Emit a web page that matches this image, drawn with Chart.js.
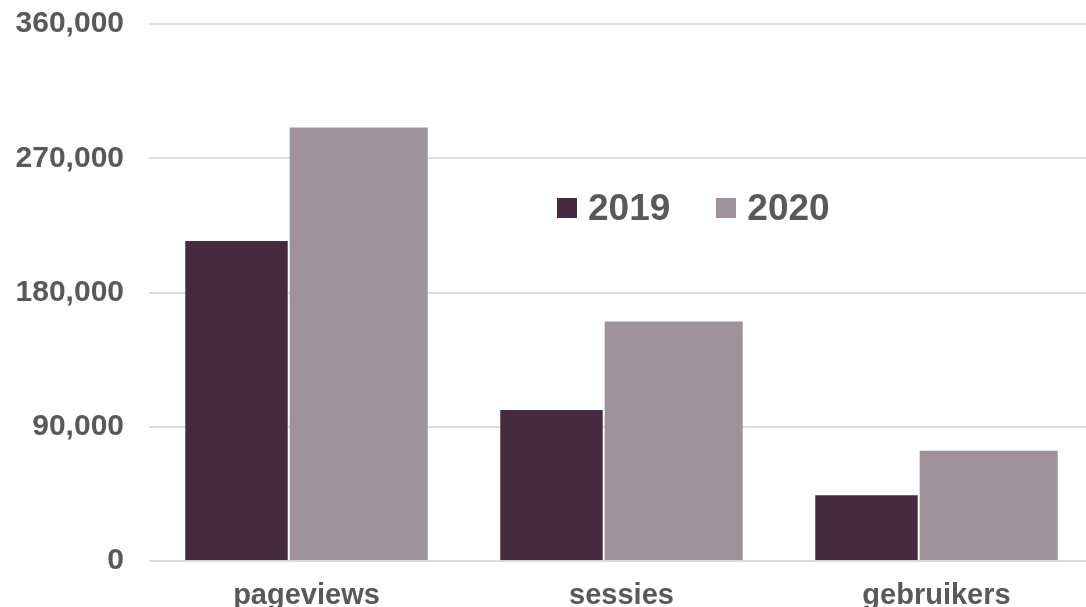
<!DOCTYPE html>
<html>
<head>
<meta charset="utf-8">
<title>pageviews, sessies, gebruikers</title>
<script src="https://cdn.jsdelivr.net/npm/chart.js@4/dist/chart.umd.min.js"></script>
<style>
  html, body { margin: 0; padding: 0; background: #fff; overflow: hidden; }
  .wrap { position: relative; width: 1094px; height: 630px; }
  .legend {
    position: absolute; left: 557px; top: 189px;
    display: flex;
    font: bold 37px 'Liberation Sans', Arial, sans-serif;
    line-height: 37px;
    color: #595959;
  }
  .legend-item { display: flex; align-items: center; margin-right: 46px; }
  .legend-item .box { width: 20px; height: 20px; margin-right: 11px; }
</style>
</head>
<body>
<div class="wrap">
  <canvas class="my-chart"></canvas>
  <div class="legend"></div>
</div>
<script>
const categories = ['pageviews', 'sessies', 'gebruikers'];
const values2019 = [215300, 102000, 44800];
const values2020 = [291300, 161300, 74700];
const yTicks = [0, 90000, 180000, 270000, 360000];

const textColor = '#595959';
const fontFamily = "'Liberation Sans', Arial, sans-serif";

const data = {
    labels: categories,
    datasets: [
        {
            label: '2019',
            data: values2019,
            backgroundColor: '#462a40',
            borderColor: 'rgba(255,255,255,0.35)',
            borderWidth: 1,
            // narrower bar, sits left of the category centre
            categoryPercentage: 0.889,
            barPercentage: 0.746,
        },
        {
            label: '2020',
            data: values2020,
            backgroundColor: '#a0929b',
            borderColor: 'rgba(255,255,255,0.35)',
            borderWidth: 1,
            // wider bar, starts where the 2019 bar ends
            categoryPercentage: 0.663,
            barPercentage: 1.341,
        }
    ],
}

const config = {
    type: 'bar',
    data: data,
    options: {
        responsive: true,
        maintainAspectRatio: false,
        devicePixelRatio: 1,
        animation: false,
        layout: {
            padding: { top: 24, left: 15, right: 0, bottom: 0 }
        },
        scales: {
            x: {
                grid: { display: false, drawTicks: false },
                border: { display: false },
                ticks: {
                    color: textColor,
                    padding: 17,
                    maxRotation: 0,
                    autoSkip: false,
                    font: { family: fontFamily, size: 29, weight: 'bold' },
                },
            },
            y: {
                min: yTicks[0],
                max: yTicks[yTicks.length - 1],
                afterBuildTicks: (scale) => {
                    scale.ticks = yTicks.map(v => ({ value: v }));
                },
                // fixed axis width so the plot starts at the same spot
                afterFit: (scale) => {
                    scale.width = 134;
                },
                // invisible tick marks make the gap between labels and plot
                grid: { color: '#dddddd', lineWidth: 2, drawTicks: true, tickLength: 25, tickColor: 'rgba(0,0,0,0)' },
                border: { display: false },
                ticks: {
                    color: textColor,
                    padding: 0,
                    font: { family: fontFamily, size: 30, weight: 'bold' },
                    callback: (value) => value.toLocaleString('en-US'),
                },
            }
        },
        plugins: {
            legend: { display: false },
            tooltip: { enabled: false }
        }
    }
}

const myChart = document.querySelector('.my-chart');
const chart = new Chart(myChart, config);

// legend sits inside the plot area, built from the datasets
const legendEl = document.querySelector('.legend');
chart.data.datasets.forEach((ds) => {
    const item = document.createElement('div');
    item.className = 'legend-item';
    const box = document.createElement('span');
    box.className = 'box';
    box.style.background = ds.backgroundColor;
    const label = document.createElement('span');
    label.textContent = ds.label;
    item.appendChild(box);
    item.appendChild(label);
    legendEl.appendChild(item);
});
</script>
</body>
</html>
